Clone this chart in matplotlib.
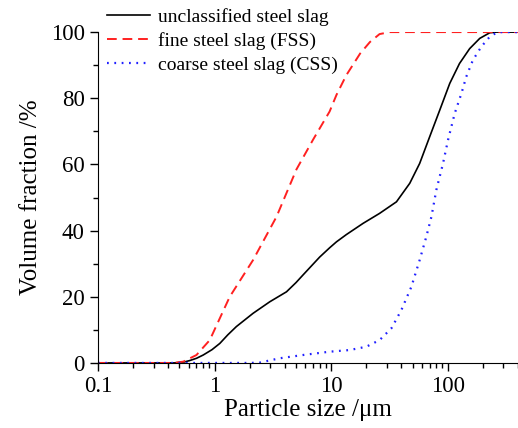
import matplotlib.pyplot as plt
from matplotlib.ticker import MultipleLocator, LogLocator, NullFormatter

plt.rcParams['font.family'] = ['Liberation Serif', 'DejaVu Serif']

# unclassified steel slag
x_us = [0.1, 0.45, 0.55, 0.61, 0.70, 0.80, 0.95, 1.11, 1.3, 1.54, 2.14, 2.98, 4.14,
        5.0, 5.74, 7.97, 9.7, 11.1, 13.5, 18.8, 26, 36.3, 47.2, 57.4, 70, 85.3, 104,
        126, 154, 188, 229, 260, 400]
y_us = [0, 0, 0.3, 0.7, 1.4, 2.4, 4, 5.9, 8.5, 11, 15, 18.5, 21.5,
        24.3, 26.6, 32, 34.8, 36.6, 38.8, 42.2, 45.2, 48.7, 54.3, 60.3, 68.4, 76.4, 84.5,
        90.5, 95, 98.1, 99.8, 100, 100]

# fine steel slag (FSS)
x_fss = [0.1, 0.45, 0.54, 0.70, 0.91, 1.35, 2.14, 3.40, 5.04, 7.0, 9.7, 11.1, 13.5,
         17.7, 21.5, 26, 31.8, 400]
y_fss = [0, 0, 0.4, 2.4, 6.9, 20, 31.1, 44.2, 58.5, 67.5, 76, 81, 87,
         93.5, 97, 99.4, 100, 100]

# coarse steel slag (CSS)
x_css = [0.1, 2.0, 2.44, 3.6, 5.74, 9.7, 14.4, 20, 26, 32.9, 40, 48.7, 57.4, 65.5,
         72.4, 79.8, 91, 100.5, 114.6, 131, 144, 164, 194, 229, 261, 290, 400]
y_css = [0, 0, 0.1, 1.4, 2.4, 3.4, 3.9, 4.9, 6.9, 10.5, 16, 23, 31.1, 38.2,
         44.2, 52.3, 60.3, 67.4, 75.4, 81.5, 86.5, 91.5, 95.6, 98.6, 99.8, 100, 100]

fig = plt.figure(figsize=(5.18, 4.28), dpi=100)
ax = fig.add_axes([0.189, 0.152, 0.811, 0.773])

ax.plot(x_us, y_us, color='black', lw=1.2, label='unclassified steel slag')
ax.plot(x_fss, y_fss, color='#ff2020', lw=1.4, ls=(0, (5, 3)), label='fine steel slag (FSS)')
ax.plot(x_css, y_css, color='#2020ff', lw=1.6, ls=(0, (0.8, 2.5)), label='coarse steel slag (CSS)')

ax.set_xscale('log')
ax.set_xlim(0.1, 400)
ax.set_ylim(0, 100)
ax.set_xticks([0.1, 1, 10, 100])
ax.set_xticklabels(['0.1', '1', '10', '100'])
ax.xaxis.set_minor_locator(LogLocator(base=10, subs=range(2, 10), numticks=20))
ax.xaxis.set_minor_formatter(NullFormatter())
ax.yaxis.set_major_locator(MultipleLocator(20))
ax.yaxis.set_minor_locator(MultipleLocator(10))

for s in ['top', 'right']:
    ax.spines[s].set_visible(False)
ax.tick_params(which='major', direction='out', length=6, width=1, labelsize=16.5)
ax.tick_params(which='minor', direction='out', length=3.5, width=1)

ax.set_xlabel('Particle size /μm', fontsize=18, labelpad=1)
ax.set_ylabel('Volume fraction /%', fontsize=18, labelpad=6)

ax.legend(loc='upper left', bbox_to_anchor=(-0.01, 1.115), frameon=False, fontsize=14,
          handlelength=2.2, handletextpad=0.4, labelspacing=0.32, borderaxespad=0.3)

fig.savefig('out.png', dpi=100)
